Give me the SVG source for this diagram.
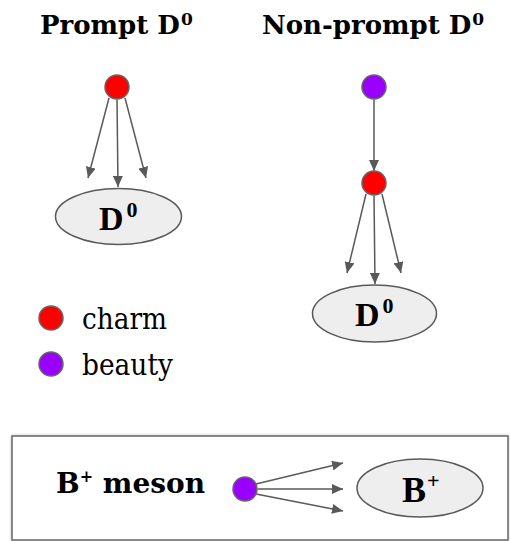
<svg xmlns="http://www.w3.org/2000/svg" width="510" height="541" viewBox="0 0 510 541">
<defs>
<marker id="arr" viewBox="0 0 11 10" refX="11" refY="5" markerWidth="11" markerHeight="10" markerUnits="userSpaceOnUse" orient="auto">
<path d="M0,0 L11,5 L0,10 z" fill="#595959"/>
</marker>
<filter id="shadow" x="-5%" y="-10%" width="110%" height="120%">
<feDropShadow dx="0" dy="0" stdDeviation="1.5" flood-color="#000000" flood-opacity="0.25"/>
</filter>
</defs>
<style>
.title{font-family:"DejaVu Serif",serif;font-weight:bold;font-size:26px;fill:#000}
.leg{font-family:"DejaVu Serif",serif;font-size:29px;fill:#000}
.big{font-family:"Liberation Serif",serif;font-weight:bold;font-size:34px;fill:#000}
.charm{fill:#ff0000;stroke:#666666;stroke-width:1.5}
.beauty{fill:#9900ff;stroke:#666666;stroke-width:1.5}
.had{fill:#eeeeee;stroke:#595959;stroke-width:1.5}
.ln{stroke:#595959;stroke-width:1.5;fill:none;marker-end:url(#arr)}
</style>
<rect width="510" height="541" fill="#ffffff"/>

<g id="bplus-box">
<rect x="12" y="436" width="496" height="104" fill="#ffffff" stroke="#666666" stroke-width="1.5" filter="url(#shadow)"/>
<text class="title" x="56" y="493" style="font-size:28px">B<tspan dy="-11" font-size="16px">+</tspan><tspan dy="11"> meson</tspan></text>
</g>

<g id="title-prompt">
<text class="title" x="40" y="34">Prompt D<tspan dx="1" dy="-9" font-size="17px">0</tspan></text>
</g>
<g id="title-nonprompt">
<text class="title" x="262" y="34">Non-prompt D<tspan dx="1" dy="-9" font-size="17px">0</tspan></text>
</g>

<g id="connectors">
<line class="ln" x1="109" y1="98" x2="88" y2="178"/>
<line class="ln" x1="117" y1="99.5" x2="118" y2="187"/>
<line class="ln" x1="125" y1="98" x2="146" y2="178"/>
<line class="ln" x1="374" y1="99.5" x2="374" y2="171"/>
<line class="ln" x1="366" y1="194" x2="347" y2="273"/>
<line class="ln" x1="374" y1="195.5" x2="375" y2="284"/>
<line class="ln" x1="382" y1="194" x2="401" y2="273"/>
<line class="ln" x1="256" y1="484" x2="343" y2="463"/>
<line class="ln" x1="257.5" y1="489" x2="343" y2="489"/>
<line class="ln" x1="256" y1="494" x2="343" y2="511"/>
</g>

<g id="prompt-charm"><circle class="charm" cx="117" cy="87" r="12"/></g>
<g id="prompt-d0">
<ellipse class="had" cx="118.5" cy="216.5" rx="63" ry="28"/>
<text class="big" x="99" y="230">D<tspan dx="3" dy="-13" font-size="22px">0</tspan></text>
</g>

<g id="nonprompt-beauty"><circle class="beauty" cx="374" cy="87" r="12"/></g>
<g id="nonprompt-charm"><circle class="charm" cx="374" cy="183" r="12"/></g>
<g id="nonprompt-d0">
<ellipse class="had" cx="374.5" cy="313.5" rx="62" ry="28.5"/>
<text class="big" x="355" y="326">D<tspan dx="3" dy="-13" font-size="22px">0</tspan></text>
</g>

<g id="legend-charm">
<circle class="charm" cx="51" cy="318" r="12"/>
<text class="leg" x="82" y="329" textLength="85" lengthAdjust="spacingAndGlyphs">charm</text>
</g>
<g id="legend-beauty">
<circle class="beauty" cx="51" cy="364" r="12"/>
<text class="leg" x="82" y="375" textLength="91" lengthAdjust="spacingAndGlyphs">beauty</text>
</g>

<g id="bplus-beauty"><circle class="beauty" cx="245" cy="489" r="12"/></g>
<g id="bplus-hadron">
<ellipse class="had" cx="420" cy="488" rx="63" ry="29"/>
<text class="big" x="402" y="502" style="font-size:36px">B<tspan dx="1" dy="-14" font-size="22px">+</tspan></text>
</g>
</svg>
